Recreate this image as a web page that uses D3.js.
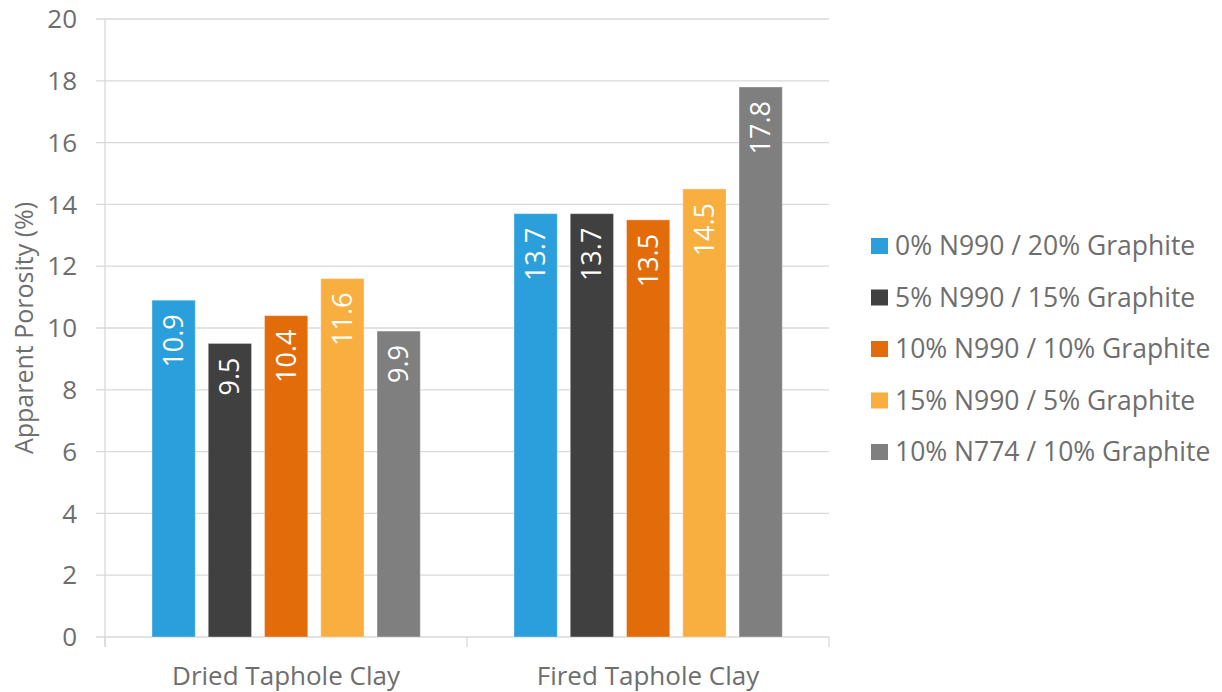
<!DOCTYPE html>
<html><head><meta charset="utf-8">
<script src="https://cdn.jsdelivr.net/npm/d3@7"></script>
<style>body{margin:0;background:#fff}svg{display:block}text{font-family:"Open Sans",sans-serif}</style>
</head><body>
<svg id="c" width="1222" height="692"></svg>
<script>
const categories = ["Dried Taphole Clay", "Fired Taphole Clay"];
const seriesNames = ["0% N990 / 20% Graphite", "5% N990 / 15% Graphite", "10% N990 / 10% Graphite", "15% N990 / 5% Graphite", "10% N774 / 10% Graphite"];
const seriesValues = [
  [10.9, 13.7],
  [9.5, 13.7],
  [10.4, 13.5],
  [11.6, 14.5],
  [9.9, 17.8]
];
const colors = ["#2A9FDB", "#404040", "#E36C0A", "#F9AE40", "#7F7F7F"];
const yTicks = [0, 2, 4, 6, 8, 10, 12, 14, 16, 18, 20];
const yTitle = "Apparent Porosity (%)";

const svg = d3.select("#c");
const L = 105, R = 829, T = 19, B = 637;
const textCol = "#6e6e6e";

const y = d3.scaleLinear().domain([0, 20]).range([B, T]);
const x0 = d3.scaleBand().domain(categories).range([L, R]).padding(0);
const x1 = d3.scaleBand().domain(d3.range(seriesNames.length))
  .range([47, 47 + 268.3]).paddingInner(0.231).paddingOuter(0);

// gridlines
svg.append("g").selectAll("line").data(yTicks).join("line")
  .attr("x1", L - 9).attr("x2", R).attr("y1", d => y(d)).attr("y2", d => y(d))
  .attr("stroke", "#d9d9d9").attr("stroke-width", 1.3);
// y axis line
svg.append("line").attr("x1", L).attr("x2", L).attr("y1", T).attr("y2", B + 10)
  .attr("stroke", "#d9d9d9").attr("stroke-width", 1.3);
// x ticks
svg.append("g").selectAll("line").data([L, ...categories.map(c => x0(c) + x0.bandwidth())]).join("line")
  .attr("x1", d => d).attr("x2", d => d).attr("y1", B).attr("y2", B + 10)
  .attr("stroke", "#d9d9d9").attr("stroke-width", 1.3);

// y tick labels
svg.append("g").selectAll("text").data(yTicks).join("text")
  .attr("x", 77).attr("y", d => y(d)).attr("dy", "0.35em")
  .attr("text-anchor", "end").attr("fill", textCol).attr("font-size", 26)
  .text(d => d);

// y title
svg.append("text").attr("transform", `translate(33,${(T + B) / 2}) rotate(-90)`)
  .attr("text-anchor", "middle").attr("fill", textCol).attr("font-size", 25)
  .text(yTitle);

// x labels
svg.append("g").selectAll("text").data(categories).join("text")
  .attr("x", d => x0(d) + x0.bandwidth() / 2).attr("y", 685)
  .attr("text-anchor", "middle").attr("fill", textCol).attr("font-size", 26)
  .text(d => d);

// bars
const groups = svg.append("g").selectAll("g").data(categories).join("g")
  .attr("transform", d => `translate(${x0(d)},0)`);
groups.each(function(cat, ci) {
  const g = d3.select(this);
  seriesNames.forEach((s, si) => {
    const v = seriesValues[si][ci];
    const bx = x1(si), bw = x1.bandwidth();
    g.append("rect").attr("x", bx).attr("y", y(v)).attr("width", bw).attr("height", y(0) - y(v))
      .attr("fill", colors[si]).attr("stroke", "#fff").attr("stroke-opacity", 0.35).attr("stroke-width", 1);
    g.append("text")
      .attr("transform", `translate(${bx + bw / 2},${y(v) + 14}) rotate(-90)`)
      .attr("text-anchor", "end").attr("dy", "0.35em")
      .attr("fill", "#fff").attr("font-size", 27)
      .text(v.toFixed(1));
  });
});

// legend
const lg = svg.append("g").selectAll("g").data(seriesNames).join("g")
  .attr("transform", (d, i) => `translate(871,${246 + i * 51.5})`);
lg.append("rect").attr("x", 0).attr("y", -8).attr("width", 17).attr("height", 16)
  .attr("fill", (d, i) => colors[i]);
lg.append("text").attr("x", 24).attr("dy", "0.35em").attr("fill", textCol).attr("font-size", 26.5)
  .text(d => d);
</script>
</body></html>
